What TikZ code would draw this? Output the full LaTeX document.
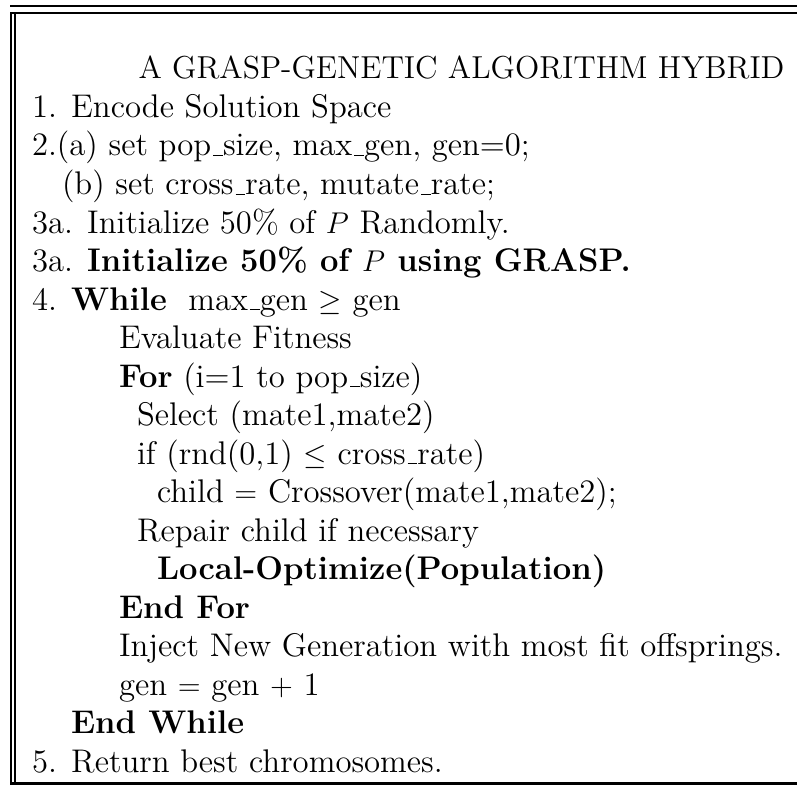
\documentclass[tikz,border=0pt]{standalone}
% Pseudocode box: GRASP / genetic algorithm hybrid
\newcommand\usc{\leavevmode\kern.06em\vbox{\hrule width.3em}}
\tikzset{
  line/.style={inner sep=0pt, outer sep=0pt, anchor=base west, font=\fontsize{13.1}{15.4}\selectfont},
  heading/.style={inner sep=0pt, outer sep=0pt, anchor=base, font=\fontsize{12.7}{15.4}\selectfont},
  rule/.style={line width=0.85pt, line cap=butt}
}
\begin{document}
\begin{tikzpicture}[x=0.4pt, y=-0.4pt]
  \useasboundingbox (0,0) rectangle (797,785);
  % frame: double rule on top and left, single rule at the bottom
  \coordinate (tl1) at (10,6.2);   \coordinate (tr1) at (797,6.2);
  \coordinate (tl2) at (10,12.8);  \coordinate (tr2) at (797,12.8);
  \coordinate (bl) at (10,783.5);  \coordinate (br) at (797,783.5);
  \coordinate (va1) at (11.2,12.8); \coordinate (vb1) at (11.2,783.5);
  \coordinate (va2) at (15,12.8);   \coordinate (vb2) at (15,783.5);
  \draw[rule] (tl1) -- (tr1);
  \draw[rule] (tl2) -- (tr2);
  \draw[rule] (bl) -- (br);
  \draw[rule] (va1) -- (vb1);
  \draw[rule] (va2) -- (vb2);
  % algorithm lines, 38.5 units apart
  \node[heading] (t0) at (461.5,79) {A GRASP-GENETIC ALGORITHM HYBRID};
  \node[line] (t1)  at (32,117.5)  {1. Encode Solution Space};
  \node[line] (t2)  at (32,156)    {2.(a) set pop\usc size, max\usc gen, gen=0;};
  \node[line] (t3)  at (62,194.5)  {(b) set cross\usc rate, mutate\usc rate;};
  \node[line] (t4)  at (32,233)    {3a. Initialize 50\% of $P$ Randomly.};
  \node[line] (t5)  at (32,271.5)  {3a. \textbf{Initialize 50\% of $P$ using GRASP.}};
  \node[line] (t6)  at (32,310)    {4. \textbf{While}\ \ max\usc gen $\geq$ gen};
  \node[line] (t7)  at (119,348.5) {Evaluate Fitness};
  \node[line] (t8)  at (119,387)   {\textbf{For} (i=1 to pop\usc size)};
  \node[line] (t9)  at (137,425.5) {Select (mate1,mate2)};
  \node[line] (t10) at (137,464)   {if (rnd(0,1) $\leq$ cross\usc rate)};
  \node[line] (t11) at (157,502.5) {child $=$ Crossover(mate1,mate2);};
  \node[line] (t12) at (137,541)   {Repair child if necessary};
  \node[line] (t13) at (157,579.5) {\textbf{Local-Optimize(Population)}};
  \node[line] (t14) at (119,618)   {\textbf{End For}};
  \node[line] (t15) at (119,656.5) {Inject New Generation with most fit offsprings.};
  \node[line] (t16) at (119,695)   {gen $=$ gen $+$ 1};
  \node[line] (t17) at (71,733.5)  {\textbf{End While}};
  \node[line] (t18) at (32,772)    {5. Return best chromosomes.};
\end{tikzpicture}
\end{document}
